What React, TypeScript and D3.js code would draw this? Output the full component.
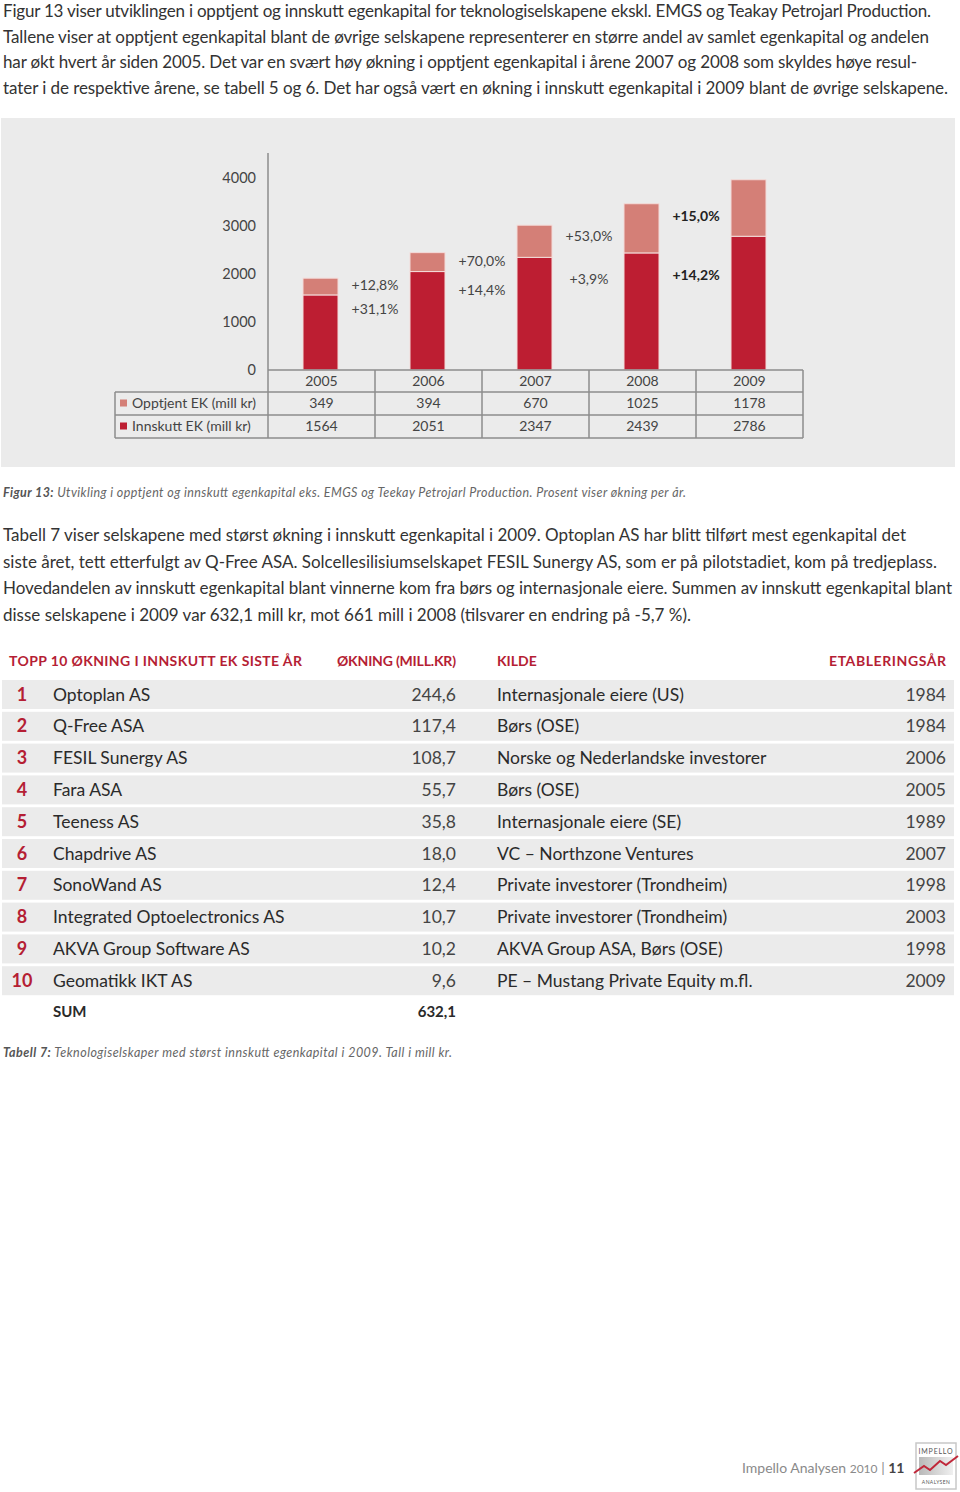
import React from "react";
import * as d3 from "d3";

const years = ["2005", "2006", "2007", "2008", "2009"];
const opptjent = [349, 394, 670, 1025, 1178];
const innskutt = [1564, 2051, 2347, 2439, 2786];
const opptjentGrowth = ["+12,8%", "+70,0%", "+53,0%", "+15,0%"];
const innskuttGrowth = ["+31,1%", "+14,4%", "+3,9%", "+14,2%"];
const growthBold = [false, false, false, true];
const yTicks = [0, 1000, 2000, 3000, 4000];

const rankNames = [
  "Optoplan AS", "Q-Free ASA", "FESIL Sunergy AS", "Fara ASA", "Teeness AS",
  "Chapdrive AS", "SonoWand AS", "Integrated Optoelectronics AS",
  "AKVA Group Software AS", "Geomatikk IKT AS",
];
const rankValues = ["244,6", "117,4", "108,7", "55,7", "35,8", "18,0", "12,4", "10,7", "10,2", "9,6"];
const rankSources = [
  "Internasjonale eiere (US)", "Børs (OSE)", "Norske og Nederlandske investorer",
  "Børs (OSE)", "Internasjonale eiere (SE)", "VC – Northzone Ventures",
  "Private investorer (Trondheim)", "Private investorer (Trondheim)",
  "AKVA Group ASA, Børs (OSE)", "PE – Mustang Private Equity m.fl.",
];
const rankYears = ["1984", "1984", "2006", "2005", "1989", "2007", "1998", "2003", "1998", "2009"];
const sumValue = "632,1";

const para1 = [
  "Figur 13 viser utviklingen i opptjent og innskutt egenkapital for teknologiselskapene ekskl. EMGS og Teakay Petrojarl Production.",
  "Tallene viser at opptjent egenkapital blant de øvrige selskapene representerer en større andel av samlet egenkapital og andelen",
  "har økt hvert år siden 2005. Det var en svært høy økning i opptjent egenkapital i årene 2007 og 2008 som skyldes høye resul-",
  "tater i de respektive årene, se tabell 5 og 6. Det har også vært en økning i innskutt egenkapital i 2009 blant de øvrige selskapene.",
];
const para1Widths = [928, 926, 914, 945];
const para2 = [
  "Tabell 7 viser selskapene med størst økning i innskutt egenkapital i 2009. Optoplan AS har blitt tilført mest egenkapital det",
  "siste året, tett etterfulgt av Q-Free ASA. Solcellesilisiumselskapet FESIL Sunergy AS, som er på pilotstadiet, kom på tredjeplass.",
  "Hovedandelen av innskutt egenkapital blant vinnerne kom fra børs og internasjonale eiere. Summen av innskutt egenkapital blant",
  "disse selskapene i 2009 var 632,1 mill kr, mot 661 mill i 2008 (tilsvarer en endring på -5,7 %).",
];
const para2Widths = [903, 934, 949, 688];

const FONT = "Lato, 'Open Sans', sans-serif";
const RED = "#b51e34";
const DARK = "#bd1e32";
const LIGHT = "#d47f77";
const TEXT = "#333";
const GRID = "#8c8c8c";

export default function App() {
  const y = d3.scaleLinear().domain([0, 4000]).range([370, 178]);
  const col = d3.scaleBand<string>().domain(years).range([268, 803]).padding(0);
  const barW = 35;
  const barX = (yr: string) => (col(yr) as number) + (col.bandwidth() - barW) / 2 - 1;
  const rowY = d3.scaleLinear().domain([0, 1]).range([680, 711.8]);
  const rowH = 29;

  return (
    <div style={{ position: "absolute", left: 0, top: 0 }}>
      <svg width={960} height={1492} style={{ display: "block", background: "#fff" }} fontFamily={FONT}>
        {/* paragraph 1 */}
        {para1.map((t, i) => (
          <text key={"p1" + i} x={3} y={17 + i * 25.7} fontSize={17} fill={TEXT}
            textLength={para1Widths[i]} lengthAdjust="spacing">{t}</text>
        ))}

        {/* chart panel */}
        <rect x={1} y={118} width={954} height={349} fill="#ebebeb" />
        <line x1={268} x2={268} y1={153} y2={370} stroke={GRID} strokeWidth={1.5} />
        {yTicks.map((t) => (
          <text key={"yt" + t} x={256} y={y(t) + 5} fontSize={14.5} fill="#444" textAnchor="end">{t}</text>
        ))}

        {/* bars */}
        {years.map((yr, i) => (
          <g key={"bar" + yr}>
            <rect x={barX(yr)} y={y(innskutt[i])} width={barW} height={y(0) - y(innskutt[i])}
              fill={DARK} stroke="#f4dcda" strokeWidth={1} />
            <rect x={barX(yr)} y={y(innskutt[i] + opptjent[i])} width={barW}
              height={y(innskutt[i]) - y(innskutt[i] + opptjent[i])}
              fill={LIGHT} stroke="#f4dcda" strokeWidth={1} />
          </g>
        ))}

        {/* growth labels */}
        {opptjentGrowth.map((g, i) => {
          const xc = (col(years[i + 1]) as number);
          const upper = y((innskutt[i] + opptjent[i]) * 0.925);
          const lower = y(innskutt[i] * 0.81);
          return (
            <g key={"gr" + i} fontSize={14} textAnchor="middle" fill={growthBold[i] ? "#222" : "#444"}
              fontWeight={growthBold[i] ? 700 : 400}>
              <text x={xc} y={upper + 5}>{g}</text>
              <text x={xc} y={lower + 5}>{innskuttGrowth[i]}</text>
            </g>
          );
        })}

        {/* data table */}
        <g stroke={GRID} strokeWidth={1.5} fill="none">
          <line x1={268} x2={803} y1={370} y2={370} />
          <line x1={115} x2={803} y1={392} y2={392} />
          <line x1={115} x2={803} y1={415} y2={415} />
          <line x1={115} x2={803} y1={438} y2={438} />
          <line x1={115} x2={115} y1={392} y2={438} />
          {years.map((yr) => (
            <line key={"vl" + yr} x1={col(yr) as number} x2={col(yr) as number} y1={370} y2={438} />
          ))}
          <line x1={803} x2={803} y1={370} y2={438} />
        </g>
        {years.map((yr, i) => {
          const xc = (col(yr) as number) + col.bandwidth() / 2;
          return (
            <g key={"tv" + yr} fontSize={14} fill="#444" textAnchor="middle">
              <text x={xc} y={386}>{yr}</text>
              <text x={xc} y={408}>{opptjent[i]}</text>
              <text x={xc} y={431}>{innskutt[i]}</text>
            </g>
          );
        })}
        <rect x={120} y={399.5} width={7} height={7} fill={LIGHT} />
        <text x={132} y={408} fontSize={14} fill="#444">Opptjent EK (mill kr)</text>
        <rect x={120} y={422.5} width={7} height={7} fill={DARK} />
        <text x={132} y={431} fontSize={14} fill="#444">Innskutt EK (mill kr)</text>

        {/* figure caption */}
        <text x={3} y={497} fontSize={12.5} fill="#666" fontStyle="italic" textLength={683} lengthAdjust="spacing">
          <tspan fontWeight={700} fill="#555">Figur 13:</tspan>
          <tspan>{"  Utvikling i opptjent og innskutt egenkapital eks. EMGS og Teekay Petrojarl Production. Prosent viser økning per år."}</tspan>
        </text>

        {/* paragraph 2 */}
        {para2.map((t, i) => (
          <text key={"p2" + i} x={3} y={541 + i * 26.5} fontSize={17} fill={TEXT}
            textLength={para2Widths[i]} lengthAdjust="spacing">{t}</text>
        ))}

        {/* table header */}
        <g fontSize={14} fontWeight={700} fill={RED}>
          <text x={9} y={666} textLength={293} lengthAdjust="spacing">TOPP 10 ØKNING I INNSKUTT EK SISTE ÅR</text>
          <text x={337} y={666} textLength={119} lengthAdjust="spacing">ØKNING (MILL.KR)</text>
          <text x={497} y={666}>KILDE</text>
          <text x={829} y={666} textLength={117} lengthAdjust="spacing">ETABLERINGSÅR</text>
        </g>

        {/* table rows */}
        {rankNames.map((n, i) => {
          const top = rowY(i);
          const base = top + 20.5;
          return (
            <g key={"row" + i}>
              <rect x={2} y={top} width={952} height={rowH} fill="#ebebeb" />
              <text x={22} y={base} fontSize={18} fontWeight={700} fill={RED} textAnchor="middle">{i + 1}</text>
              <text x={53} y={base} fontSize={17.5} fill="#2a2a2a">{n}</text>
              <text x={456} y={base} fontSize={17.5} fill="#444" textAnchor="end">{rankValues[i]}</text>
              <text x={497} y={base} fontSize={17.5} fill="#2a2a2a">{rankSources[i]}</text>
              <text x={946} y={base} fontSize={17.5} fill="#444" textAnchor="end">{rankYears[i]}</text>
            </g>
          );
        })}
        <text x={53} y={1017} fontSize={15} fontWeight={700} fill="#2a2a2a">SUM</text>
        <text x={456} y={1017} fontSize={15} fontWeight={700} fill="#2a2a2a" textAnchor="end">{sumValue}</text>

        {/* table caption */}
        <text x={3} y={1057} fontSize={12.5} fill="#666" fontStyle="italic" textLength={449} lengthAdjust="spacing">
          <tspan fontWeight={700} fill="#555">Tabell 7:</tspan>
          <tspan>{"  Teknologiselskaper med størst innskutt egenkapital i 2009. Tall i mill kr."}</tspan>
        </text>

        {/* footer */}
        <text x={742} y={1473} fontSize={14} fill="#8a8a8a">
          <tspan>Impello Analysen </tspan>
          <tspan fontSize={12}>2010</tspan>
          <tspan>{"  |  "}</tspan>
          <tspan fontWeight={700} fill="#444">11</tspan>
        </text>
        <defs>
          <linearGradient id="logoG" x1="0" y1="0" x2="1" y2="0">
            <stop offset="0" stopColor="#b8b8b8" />
            <stop offset="1" stopColor="#f0f0f0" />
          </linearGradient>
        </defs>
        <rect x={916} y={1443} width={40} height={46} fill="#fff" stroke="#c8c8c8" strokeWidth={1.5} />
        <text x={936} y={1454} fontSize={7} fill="#555" textAnchor="middle" letterSpacing={0.8}>IMPELLO</text>
        <rect x={919} y={1457} width={34} height={18} fill="url(#logoG)" />
        <polyline points="914,1473 924,1466 930,1470 940,1461 946,1465 958,1456" fill="none" stroke="#c0283a" strokeWidth={2} />
        <text x={936} y={1484} fontSize={5} fill="#555" textAnchor="middle" letterSpacing={0.4}>ANALYSEN</text>
      </svg>
    </div>
  );
}
